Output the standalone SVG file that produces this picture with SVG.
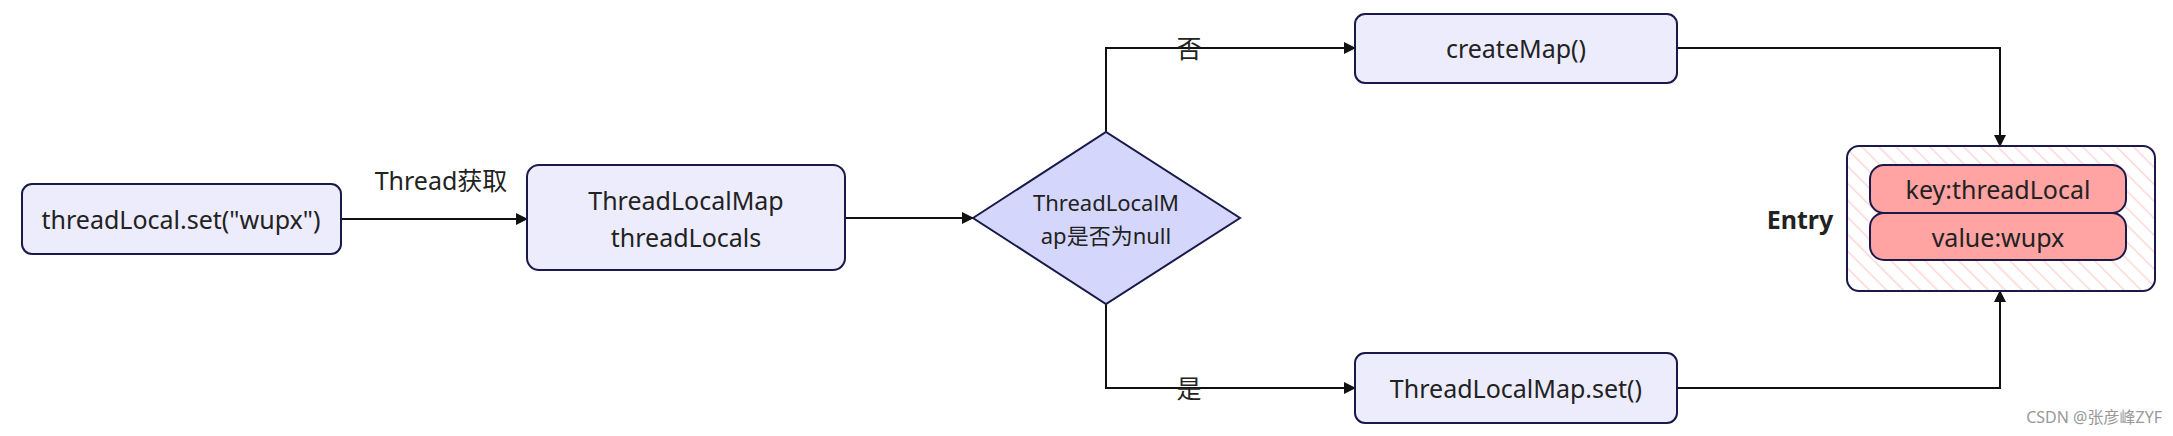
<svg xmlns="http://www.w3.org/2000/svg" width="2173" height="436" viewBox="0 0 2173 436">
<defs>
<marker id="ah" markerWidth="12" markerHeight="12" refX="11" refY="6" orient="auto" markerUnits="userSpaceOnUse"><path d="M0,0 L12,6 L0,12 z" fill="#111"/></marker>
<pattern id="hatch" width="12" height="12" patternUnits="userSpaceOnUse" patternTransform="rotate(-45)"><rect width="12" height="12" fill="#fff"/><line x1="0" y1="0" x2="0" y2="12" stroke="#ffd6d6" stroke-width="3"/></pattern>
<style>
.n{fill:#ececfd;stroke:#1a1a4a;stroke-width:2}
.t{font-family:"Noto Sans","Noto Sans CJK SC",sans-serif;font-size:25px;fill:#222;text-anchor:middle;dominant-baseline:central}
.c{fill:none;stroke:#111;stroke-width:2;marker-end:url(#ah)}
.p{fill:#ffa3a3;stroke:#1a1a4a;stroke-width:2}
</style>
</defs>
<rect width="2173" height="436" fill="#fff"/>
<g id="connectors">
<path class="c" d="M341,219 H527"/>
<path class="c" d="M845,218 H973"/>
<path class="c" d="M1106,132 V48 H1355"/>
<path class="c" d="M1106,304 V388 H1355"/>
<path class="c" d="M1677,48 H2000 V146"/>
<path class="c" d="M1677,388 H2000 V291"/>
<text class="t" x="441" y="180">Thread获取</text>
<text class="t" x="1189" y="48">否</text>
<text class="t" x="1189" y="388">是</text>
</g>
<g id="n1"><rect class="n" x="22" y="184" width="319" height="70" rx="10"/><text class="t" x="181" y="219">threadLocal.set("wupx")</text></g>
<g id="n2"><rect class="n" x="527" y="165" width="318" height="105" rx="12"/><text class="t" x="686" y="200">ThreadLocalMap</text><text class="t" x="686" y="237">threadLocals</text></g>
<g id="d"><path d="M973,218 L1106,132 L1240,218 L1106,304 z" fill="#d4d7fb" stroke="#1a1a4a" stroke-width="2"/><text class="t" x="1106" y="202" style="font-size:22px">ThreadLocalM</text><text class="t" x="1106" y="235" style="font-size:22px">ap是否为null</text></g>
<g id="n3"><rect class="n" x="1355" y="14" width="322" height="69" rx="10"/><text class="t" x="1516" y="48">createMap()</text></g>
<g id="n4"><rect class="n" x="1355" y="353" width="322" height="70" rx="10"/><text class="t" x="1516" y="388">ThreadLocalMap.set()</text></g>
<g id="entry">
<rect x="1847" y="146" width="308" height="145" rx="12" fill="url(#hatch)" stroke="#1a1a4a" stroke-width="2"/>
<text class="t" x="1800" y="219" style="font-weight:bold">Entry</text>
<rect class="p" x="1870" y="165" width="256" height="48" rx="14"/><text class="t" x="1998" y="189">key:threadLocal</text>
<rect class="p" x="1870" y="213" width="256" height="47" rx="14"/><text class="t" x="1998" y="237">value:wupx</text>
</g>
<text x="2162" y="423" style="font-family:'Noto Sans','Noto Sans CJK SC',sans-serif;font-size:16px;fill:#999;text-anchor:end">CSDN @张彦峰ZYF</text>
</svg>
